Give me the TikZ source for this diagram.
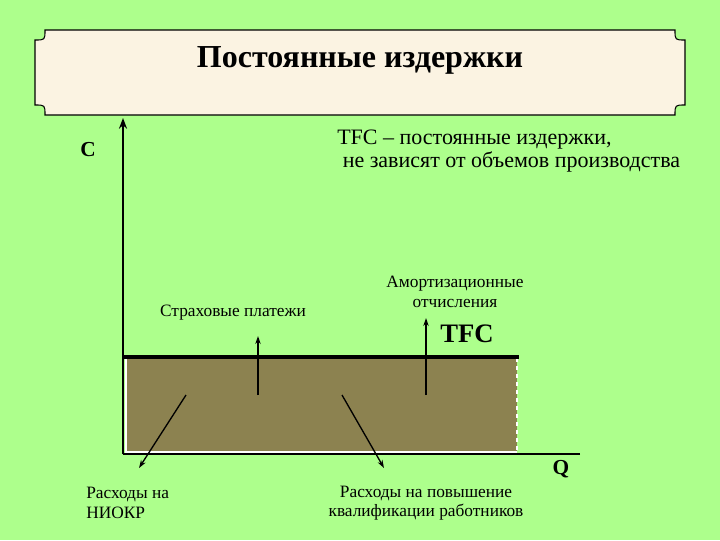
\documentclass[tikz,border=0pt]{standalone}
\usepackage{fontspec}
\setmainfont{Liberation Serif}
\usetikzlibrary{arrows.meta}
\definecolor{bg}{HTML}{ADFF8C}
\definecolor{banner}{HTML}{FBF3E2}
\definecolor{area}{HTML}{8C8250}
\begin{document}
\begin{tikzpicture}[x=0.75pt,y=-0.75pt,
  lbl/.style={inner sep=0pt,font=\fontsize{13}{14.5}\selectfont,align=center},
  arr/.style={-{Stealth[length=6pt,width=4pt]},line width=1pt}]
\fill[bg] (0,0) rectangle (720,540);
\useasboundingbox (0,0) rectangle (720,540);
% banner
\draw[fill=banner,line width=0.8pt] (45,30) -- (675,30) .. controls (675,40) .. (685,40) -- (685,105) .. controls (675,105) .. (675,115) -- (45,115) .. controls (45,105) .. (35,105) -- (35,40) .. controls (45,40) .. (45,30) -- cycle;
\node[inner sep=0pt,font=\bfseries\fontsize{24}{28}\selectfont] (title) at (360,60) {Постоянные издержки};
% area
\fill[area] (125,357) rectangle (517,452);
\draw[white,dashed,line width=0.8pt] (517,358) -- (517,452);
\draw[white,line width=0.8pt] (126,358) -- (126,452) -- (517,452);
\draw[line width=3pt] (123,357) -- (519,357);
% axes
\coordinate (o) at (123,454);
\coordinate (ytop) at (123,118);
\coordinate (xend) at (580,454);
\draw[line width=1.5pt] (xend) -- (o);
\draw[line width=1.5pt,-{Stealth[length=8pt,width=6pt]}] (o) -- (ytop);
\node[inner sep=0pt,font=\bfseries\fontsize{16}{18}\selectfont] (c) at (88,150) {C};
\node[inner sep=0pt,font=\bfseries\fontsize{16}{18}\selectfont] (q) at (561,469) {Q};
\node[inner sep=0pt,align=left,anchor=west,font=\fontsize{16.5}{17.5}\selectfont] (tfcd) at (337,151) {TFC – постоянные издержки,\\\ не зависят от объемов производства};
\node[inner sep=0pt,font=\bfseries\fontsize{20}{22}\selectfont] (tfc) at (467,334) {TFC};
\node[lbl] (str) at (233,313) {Страховые платежи};
\node[lbl] (am) at (455,292) {Амортизационные\\отчисления};
\node[lbl,align=left,anchor=west] (niokr) at (86,503) {Расходы на\\НИОКР};
\node[lbl] (kv) at (426,503) {Расходы на повышение\\квалификации работников};
% arrows
\coordinate (a1) at (258,395); \coordinate (a1t) at (258,336);
\coordinate (a2) at (426,395); \coordinate (a2t) at (426,318);
\coordinate (d1) at (186,395); \coordinate (d1t) at (139,468);
\coordinate (d2) at (342,395); \coordinate (d2t) at (384,468);
\draw[arr] (a1) -- (a1t);
\draw[arr] (a2) -- (a2t);
\draw[arr] (d1) -- (d1t);
\draw[arr] (d2) -- (d2t);
\end{tikzpicture}
\end{document}
